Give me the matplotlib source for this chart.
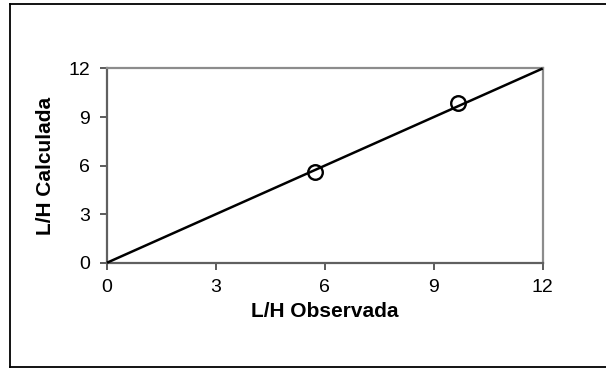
import matplotlib
matplotlib.use("Agg")
import matplotlib.pyplot as plt
from matplotlib.lines import Line2D

plt.rcParams['font.family'] = ['Liberation Sans', 'DejaVu Sans']

# observed vs calculated L/H
observada = [5.73, 9.66]
calculada = [5.62, 9.85]

# 1:1 reference line
linea_x = [0, 12]
linea_y = [0, 12]

ticks = [0, 3, 6, 9, 12]

fig = plt.figure(figsize=(6.06, 3.68), dpi=100)
ax = fig.add_axes([0.1766, 0.2861, 0.7189, 0.5278])

ax.plot(linea_x, linea_y, color='black', lw=1.8, solid_capstyle='butt', clip_on=False, zorder=3)
ax.plot(observada, calculada, 'o', ms=10.5, mfc='none', mec='black', mew=1.7, zorder=4)

ax.set_xlim(0, 12)
ax.set_ylim(0, 12)
ax.set_xticks(ticks)
ax.set_yticks(ticks)
ax.tick_params(direction='out', length=5, width=1.2, color='#404040',
               labelsize=14, pad=7)

for s in ('left', 'bottom'):
    ax.spines[s].set_color('#606060')
    ax.spines[s].set_linewidth(1.6)
for s in ('top', 'right'):
    ax.spines[s].set_color('#8c8c8c')
    ax.spines[s].set_linewidth(1.6)

ax.set_xlabel('L/H Observada', fontsize=15, fontweight='bold', labelpad=4)
ax.set_ylabel('L/H Calculada', fontsize=15, fontweight='bold', labelpad=10)

# chart border: left, top and bottom edges only (right edge runs off the figure)
bx0, bx1 = 9.5 / 606, 1.0
by0, by1 = 1 - 366.5 / 368, 1 - 4 / 368
for xs, ys in (([bx0, bx0], [by0, by1]), ([bx0, bx1], [by1, by1]), ([bx0, bx1], [by0, by0])):
    fig.add_artist(Line2D(xs, ys, transform=fig.transFigure, color='black', lw=1.3))

fig.savefig('out.png', dpi=100)
